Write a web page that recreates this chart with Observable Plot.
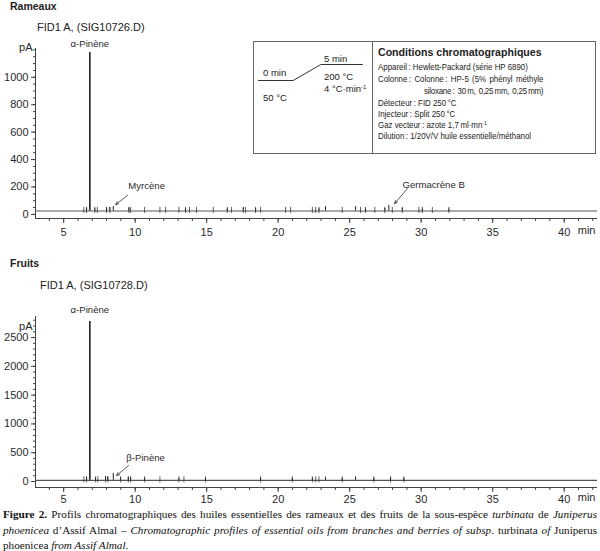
<!DOCTYPE html>
<html>
<head>
<meta charset="utf-8">
<script src="https://cdn.jsdelivr.net/npm/d3@7"></script>
<script src="https://cdn.jsdelivr.net/npm/@observablehq/plot@0.6"></script>
<style>
  body { margin: 0; background: #fff; }
  #page { position: relative; width: 600px; height: 551px; overflow: hidden; background: #fff;
          font-family: "Liberation Sans", Arial, Helvetica, sans-serif; color: #222; }
  .t { position: absolute; white-space: nowrap; }
  .chart { position: absolute; left: 0; }
  .section { font-weight: bold; font-size: 10.5px; line-height: 10.5px; }
  .signal { font-size: 11px; line-height: 11px; }
  #box { position: absolute; left: 253px; top: 41px; width: 341px; height: 111px; border: 1px solid #666; }
  #divider { position: absolute; left: 372px; top: 41px; width: 1px; height: 112px; background: #666; }
  .prog { font-size: 9.5px; line-height: 9.5px; }
  .prog sup, .cond sup { font-size: 6px; vertical-align: 3px; line-height: 0; }
  .condTitle { font-weight: bold; font-size: 10.6px; line-height: 10.6px; }
  .cond { font-size: 9.4px; line-height: 9.4px; transform: scaleX(0.84); transform-origin: 0 0; }
  .just { text-align: justify; text-align-last: justify; }
  .cap { position: absolute; left: 3px; width: 594px; font-family: "Liberation Serif", "Times New Roman", serif;
         font-size: 11.2px; line-height: 12px; color: #111; white-space: nowrap; text-align: justify; text-align-last: justify; }
</style>
</head>
<body>
<div id="page">
  <div class="t section" style="left:10px; top:1px;">Rameaux</div>
  <div class="t signal" style="left:37px; top:22px;">FID1 A, (SIG10726.D)</div>
  <div id="top" class="chart" style="top:0px;"></div>

  <div class="t section" style="left:10px; top:258px;">Fruits</div>
  <div class="t signal" style="left:40px; top:280px;">FID1 A, (SIG10728.D)</div>
  <div id="bottom" class="chart" style="top:250px;"></div>

  <div id="box"></div>
  <div id="divider"></div>
  <div id="program" style="position:absolute; left:253px; top:41px;"></div>
  <div class="t prog" style="left:263px; top:68px;">0 min</div>
  <div class="t prog" style="left:263px; top:93px;">50 °C</div>
  <div class="t prog" style="left:324px; top:54px;">5 min</div>
  <div class="t prog" style="left:324px; top:72px;">200 °C</div>
  <div class="t prog" style="left:324px; top:84px;">4 °C·min<sup>-1</sup></div>

  <div class="t condTitle" style="left:378px; top:47px;">Conditions chromatographiques</div>
  <div class="t cond" style="left:378px; top:62px;">Appareil&#8239;: Hewlett-Packard (série HP 6890)</div>
  <div class="t cond just" style="left:378px; top:74px; width:197px;">Colonne&#8239;: Colonne&#8239;: HP-5 (5% phényl méthyle</div>
  <div class="t cond just" style="left:424px; top:86px; width:142px; letter-spacing:-0.25px;">siloxane&#8239;: 30&#8201;m, 0,25&#8201;mm, 0,25&#8201;mm)</div>
  <div class="t cond" style="left:378px; top:98px;">Détecteur&#8239;: FID 250&#8201;°C</div>
  <div class="t cond" style="left:378px; top:109px;">Injecteur&#8239;: Split 250&#8201;°C</div>
  <div class="t cond" style="left:378px; top:120px;">Gaz vecteur&#8239;: azote 1,7&#8201;ml·mn<sup>-1</sup></div>
  <div class="t cond" style="left:378px; top:131px;">Dilution&#8239;: 1/20V/V huile essentielle/méthanol</div>

  <div class="cap" style="top:508px;"><b>Figure 2.</b> Profils chromatographiques des huiles essentielles des rameaux et des fruits de la sous-espèce <i>turbinata</i> de <i>Juniperus</i></div>
  <div class="cap" style="top:524px;"><i>phoenicea</i> d’Assif Almal – <i>Chromatographic profiles of essential oils from branches and berries of subsp</i>. turbinata <i>of</i> Juniperus</div>
  <div class="cap" style="top:539px; text-align-last:left;">phoenicea <i>from Assif Almal</i>.</div>
</div>

<script>
// Retention time axis (min)
const timeDomain = [3.03, 42.33];
const timeTicks = [5, 10, 15, 20, 25, 30, 35, 40];

// Rameaux – FID1 A (SIG10726.D)
const rameauxBaseline = 25;
const rameauxPeakTimes   = [6.60, 6.83, 7.18, 8.00, 8.23, 8.47, 9.56, 13.52, 16.44, 17.56, 18.42, 22.85, 23.31, 25.41, 26.11, 27.46, 27.74, 28.68, 30.08, 31.94];
const rameauxPeakHeights = [45, 1180, 40, 45, 50, 58, 46, 40, 40, 48, 42, 40, 56, 56, 40, 44, 66, 44, 38, 38];
const rameauxMarkerTimes = [6.41, 6.60, 7.18, 7.35, 8.00, 8.23, 9.56, 9.68, 10.66, 11.73, 12.13, 13.06, 13.52, 13.80, 14.29,
                            15.46, 16.44, 16.74, 17.56, 17.72, 18.42, 18.77, 20.52, 20.87, 22.39, 22.62, 22.85, 24.48,
                            25.76, 26.11, 26.76, 27.46, 27.98, 28.68, 29.84, 30.08, 30.78, 31.94];
const rameauxYTicks = [0, 200, 400, 600, 800, 1000];
const rameauxNames = ["α-Pinène", "Myrcène", "Germacrène B"];

// Fruits – FID1 A (SIG10728.D)
const fruitsBaseline = 20;
const fruitsPeakTimes   = [6.60, 6.83, 7.23, 7.93, 8.09, 8.47, 8.98, 9.52, 9.68, 10.66, 13.06, 14.92, 18.77, 20.99, 22.39, 23.31, 24.48, 25.41, 26.69, 27.86, 28.79];
const fruitsPeakHeights = [75, 2780, 60, 85, 80, 140, 60, 72, 66, 55, 52, 55, 55, 55, 58, 75, 55, 80, 58, 62, 58];
const fruitsMarkerTimes = [6.41, 6.60, 7.23, 7.39, 7.93, 8.09, 8.98, 9.52, 9.68, 10.66, 11.73, 13.06, 13.41, 14.92,
                           18.77, 20.99, 22.39, 22.62, 22.85, 24.48, 26.69, 27.86, 28.79];
const fruitsYTicks = [0, 500, 1000, 1500, 2000, 2500];
const fruitsNames = ["α-Pinène", "β-Pinène"];

// Temperature programme: 50 °C (0 min) → 4 °C/min → 200 °C (5 min)
const programStep = [0, 1, 1.8, 3];
const programTemp = [50, 50, 200, 200];

const sans = '"Liberation Sans", Arial, Helvetica, sans-serif';
const ink = "#2a2a2a";

function chromatogram(cfg) {
  const peaks = cfg.peakTimes.map((t, i) => ({t, pA: cfg.peakHeights[i]}));
  const [x0, x1] = timeDomain;
  const [y0, y1] = cfg.yDomain;
  return Plot.plot({
    width: 600,
    height: cfg.height,
    marginLeft: 35,
    marginRight: 3,
    marginTop: cfg.marginTop,
    marginBottom: cfg.marginBottom,
    style: {fontFamily: sans, fontSize: "11px", color: ink, background: "transparent", overflow: "visible"},
    x: {domain: timeDomain},
    y: {domain: cfg.yDomain},
    marks: [
      // axis lines
      Plot.ruleX([x0], {y1: y0, y2: y1, stroke: "#444", strokeWidth: 1}),
      Plot.ruleY([y0], {x1: x0, x2: x1, stroke: "#444", strokeWidth: 1}),
      // minor and major ticks
      Plot.axisX(d3.range(4, 43), {tickSize: 3, tickFormat: () => "", stroke: "#444", label: null}),
      Plot.axisX(timeTicks, {tickSize: 5, tickPadding: cfg.tickPadding, tickFormat: d => String(d), stroke: "#444", fill: ink, fontSize: 11, label: null}),
      Plot.axisY(cfg.yMinor, {tickSize: 2, tickFormat: () => "", stroke: "#444", label: null}),
      Plot.axisY(cfg.yTicks, {tickSize: 4, tickPadding: 3, tickFormat: d => String(d), stroke: "#444", fill: ink, fontSize: 11, label: null}),
      Plot.text(["pA"], {frameAnchor: "top-left", dx: -3, dy: cfg.unitDy, textAnchor: "end", fontSize: 11, fill: ink}),
      Plot.text(["min"], {frameAnchor: "bottom-right", dx: -2, dy: cfg.tickPadding + 10, textAnchor: "end", fontSize: 11, fill: ink}),
      // baseline of the signal
      Plot.ruleY([cfg.baseline], {x1: x0, x2: x1, stroke: "#555", strokeWidth: 1.1}),
      // integration marks
      Plot.ruleX(cfg.markerTimes, {x: d => d, y1: cfg.baseline - cfg.markBelow, y2: cfg.baseline + cfg.markAbove, stroke: "#333", strokeWidth: 0.8}),
      // peaks
      Plot.ruleX(peaks, {x: "t", y1: cfg.baseline, y2: "pA", stroke: "#222", strokeWidth: d => d.pA > 500 ? 1.6 : 1}),
      // compound names and pointers
      Plot.text(cfg.labels, {x: "t", y: "pA", text: "name", fontSize: 9.6, fill: ink}),
      Plot.arrow(cfg.arrows, {x1: "t1", y1: "pA1", x2: "t2", y2: "pA2", stroke: "#333", strokeWidth: 0.8, headLength: 6, headAngle: 50})
    ]
  });
}

document.getElementById("top").append(chromatogram({
  height: 245, marginTop: 48, marginBottom: 27, tickPadding: 5,
  yDomain: [-30, 1210], yTicks: rameauxYTicks, yMinor: d3.range(0, 1201, 50),
  unitDy: -5,
  baseline: rameauxBaseline, peakTimes: rameauxPeakTimes, peakHeights: rameauxPeakHeights,
  markerTimes: rameauxMarkerTimes, markBelow: 18, markAbove: 26,
  labels: [
    {name: rameauxNames[0], t: 6.83, pA: 1246},
    {name: rameauxNames[1], t: 10.8, pA: 211},
    {name: rameauxNames[2], t: 30.87, pA: 218}
  ],
  arrows: [
    {t1: 9.47, pA1: 138, t2: 8.63, pA2: 72},
    {t1: 29.05, pA1: 189, t2: 28.14, pA2: 79}
  ]
}));

document.getElementById("bottom").append(chromatogram({
  height: 258, marginTop: 66, marginBottom: 21, tickPadding: 3,
  yDomain: [-104, 2865], yTicks: fruitsYTicks, yMinor: d3.range(0, 2801, 100),
  unitDy: 6,
  baseline: fruitsBaseline, peakTimes: fruitsPeakTimes, peakHeights: fruitsPeakHeights,
  markerTimes: fruitsMarkerTimes, markBelow: 43, markAbove: 61,
  labels: [
    {name: fruitsNames[0], t: 6.83, pA: 2986},
    {name: fruitsNames[1], t: 10.73, pA: 417}
  ],
  arrows: [
    {t1: 9.54, pA1: 278, t2: 8.70, pA2: 104}
  ]
}));

// Oven temperature programme sketch
document.getElementById("program").append(Plot.plot({
  width: 119, height: 60, margin: 0,
  style: {background: "transparent", overflow: "visible"},
  x: {domain: [0, 3], range: [5, 109], axis: null},
  y: {domain: [50, 200], range: [39, 23], axis: null},
  marks: [
    Plot.line(programStep.map((s, i) => ({s, temp: programTemp[i]})), {x: "s", y: "temp", stroke: "#333", strokeWidth: 1})
  ]
}));
</script>
</body>
</html>
